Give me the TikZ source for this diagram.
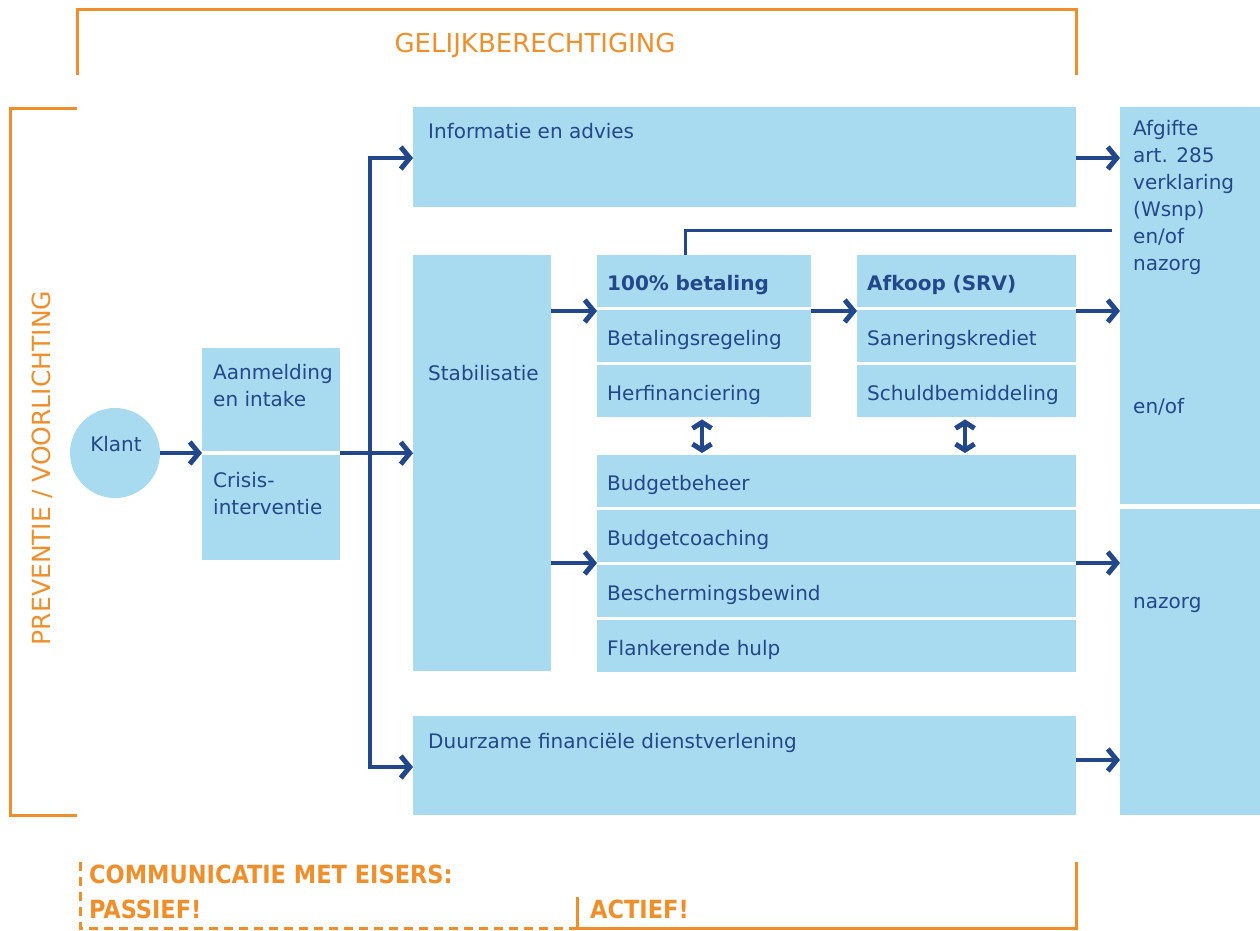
\documentclass[tikz,border=0pt]{standalone}
\usepackage{fontspec}
\setmainfont{DejaVu Sans}
\newfontfamily\condfont{DejaVu Sans Condensed}
\usetikzlibrary{arrows.meta,calc}
\definecolor{lb}{HTML}{A8DBEF}
\definecolor{db}{HTML}{22478A}
\definecolor{og}{HTML}{EE8F2C}
\begin{document}
\begin{tikzpicture}[x=1pt,y=-1pt,
  box/.style={fill=lb,draw=none,inner sep=0pt,anchor=north west},
  rowbox/.style={box,inner xsep=10pt,inner ysep=0pt,text=db,font=\fontsize{20}{27}\selectfont,
    align=left,text height=19pt,text depth=0pt,minimum height=52pt},
  txt/.style={text=db,font=\fontsize{20}{27}\selectfont,inner sep=0pt,anchor=base west,align=left},
  arr/.style={db,line width=4.5pt,-{Straight Barb[length=9pt,width=22pt,line width=5pt]}},
  dbl/.style={db,line width=4.5pt,{Straight Barb[length=6pt,width=19pt,line width=5pt]}-{Straight Barb[length=6pt,width=19pt,line width=5pt]}},
  trunk/.style={db,line width=3.5pt},
  brk/.style={og,line width=3pt},
  otxt/.style={text=og,inner sep=0pt}]
\useasboundingbox (0,0) rectangle (1260,930);
% brackets
\draw[brk] (77,75) -- (77,9) -- (1076,9) -- (1076,75);
\node[otxt,font=\fontsize{26}{30}\selectfont] (gel) at (535,45) {GELIJKBERECHTIGING};
\draw[brk] (77,108) -- (10,108) -- (10,815) -- (77,815);
\node[otxt,rotate=90,font=\fontsize{25}{30}\selectfont] (prev) at (42,468) {PREVENTIE / VOORLICHTING};
% klant
\node[circle,fill=lb,minimum size=90pt,inner sep=0pt] (klant) at (115,453) {};
\node[txt,anchor=base] (klantt) at (116,451) {Klant};
% aanmelding
\node[box,minimum width=138pt,minimum height=103pt] (aan1) at (202,348) {};
\node[box,minimum width=138pt,minimum height=105pt] (aan2) at (202,455) {};
\node[txt] (aan1t) at ($(aan1.north west)+(11,58)$) {Aanmelding\\en intake};
\node[txt] (aan2t) at ($(aan2.north west)+(11,59)$) {Crisis-\\interventie};
% middle boxes
\node[box,minimum width=663pt,minimum height=100pt] (info) at (413,107) {};
\node[txt] (infot) at ($(info.north west)+(15,31)$) {Informatie en advies};
\node[box,minimum width=138pt,minimum height=416pt] (stab) at (413,255) {};
\node[txt] (stabt) at ($(stab.north west)+(15,125)$) {Stabilisatie};
\node[box,minimum width=663pt,minimum height=99pt] (duur) at (413,716) {};
\node[txt] (duurt) at ($(duur.north west)+(15,32)$) {Duurzame financiële dienstverlening};
% group 1
\node[rowbox,text width=194pt] (b1) at (597,255) {\bfseries 100\% betaling};
\node[rowbox,text width=194pt] (b2) at (597,310) {Betalingsregeling};
\node[rowbox,text width=194pt] (b3) at (597,365) {Herfinanciering};
% group 2
\node[rowbox,text width=199pt] (a1) at (857,255) {\bfseries Afkoop (SRV)};
\node[rowbox,text width=199pt] (a2) at (857,310) {Saneringskrediet};
\node[rowbox,text width=199pt] (a3) at (857,365) {Schuldbemiddeling};
% budget group
\node[rowbox,text width=459pt] (u1) at (597,455) {Budgetbeheer};
\node[rowbox,text width=459pt] (u2) at (597,510) {Budgetcoaching};
\node[rowbox,text width=459pt] (u3) at (597,565) {Beschermingsbewind};
\node[rowbox,text width=459pt] (u4) at (597,620) {Flankerende hulp};
% right column
\node[box,minimum width=140pt,minimum height=397pt] (rc1) at (1120,107) {};
\node[box,minimum width=140pt,minimum height=306pt] (rc2) at (1120,509) {};
\node[txt] (rc1t) at ($(rc1.north west)+(13,163)$) {Afgifte\\art. 285\\verklaring\\(Wsnp)\\en/of\\nazorg};
\node[txt] (rc1b) at ($(rc1.north west)+(13,306)$) {en/of};
\node[txt] (rc2t) at ($(rc2.north west)+(13,99)$) {nazorg};
% connectors
\draw[arr] (klant.east) -- (aan1.west |- klant.east);
\coordinate (split) at ($(aan1.south east)!0.5!(aan2.north east)$);
\draw[arr] (split) -- (stab.west |- split);
\coordinate (ttop) at (370,158);
\coordinate (tbot) at (370,767);
\draw[trunk] (ttop) -- (tbot);
\draw[arr] ([xshift=-1.75pt]ttop) -- (info.west |- ttop);
\draw[arr] ([xshift=-1.75pt]tbot) -- (duur.west |- tbot);
\coordinate (y1) at (0,311);
\draw[arr] (stab.east |- y1) -- (b1.west |- y1);
\draw[arr] (b1.east |- y1) -- (a1.west |- y1);
\draw[arr] (a1.east |- y1) -- (rc1.west |- y1);
\coordinate (y2) at (0,563);
\draw[arr] (stab.east |- y2) -- (u1.west |- y2);
\draw[arr] (u1.east |- y2) -- (rc2.west |- y2);
\coordinate (y0) at (0,158);
\draw[arr] (info.east |- y0) -- (rc1.west |- y0);
\coordinate (y3) at (0,760);
\draw[arr] (duur.east |- y3) -- (rc2.west |- y3);
\coordinate (ylink) at (0,230);
\coordinate (xlink) at (685,0);
\coordinate (linkend) at (1112,230);
\draw[trunk,line width=3pt] (b1.north -| xlink) -- (xlink |- ylink) -- (linkend);
\draw[dbl] ($(b3.south west)+(105,2)$) -- ($(u1.north west)+(105,-2)$);
\draw[dbl] ($(a3.south west)+(108,2)$) -- ($(u1.north west)+(368,-2)$);
% bottom
\node[otxt,anchor=base west,font=\condfont\bfseries\fontsize{25}{30}\selectfont] (comm) at (89,883) {COMMUNICATIE MET EISERS:};
\node[otxt,anchor=base west,font=\condfont\bfseries\fontsize{25}{30}\selectfont] (pas) at (89,918) {PASSIEF!};
\node[otxt,anchor=base west,font=\condfont\bfseries\fontsize{25}{30}\selectfont] (act) at (590,918) {ACTIEF!};
\draw[brk,dashed,dash pattern=on 9pt off 6pt] (80,862) -- (80,928) -- (577,928);
\draw[brk] (577,897) -- (577,928) -- (1076,928) -- (1076,862);
\end{tikzpicture}
\end{document}
